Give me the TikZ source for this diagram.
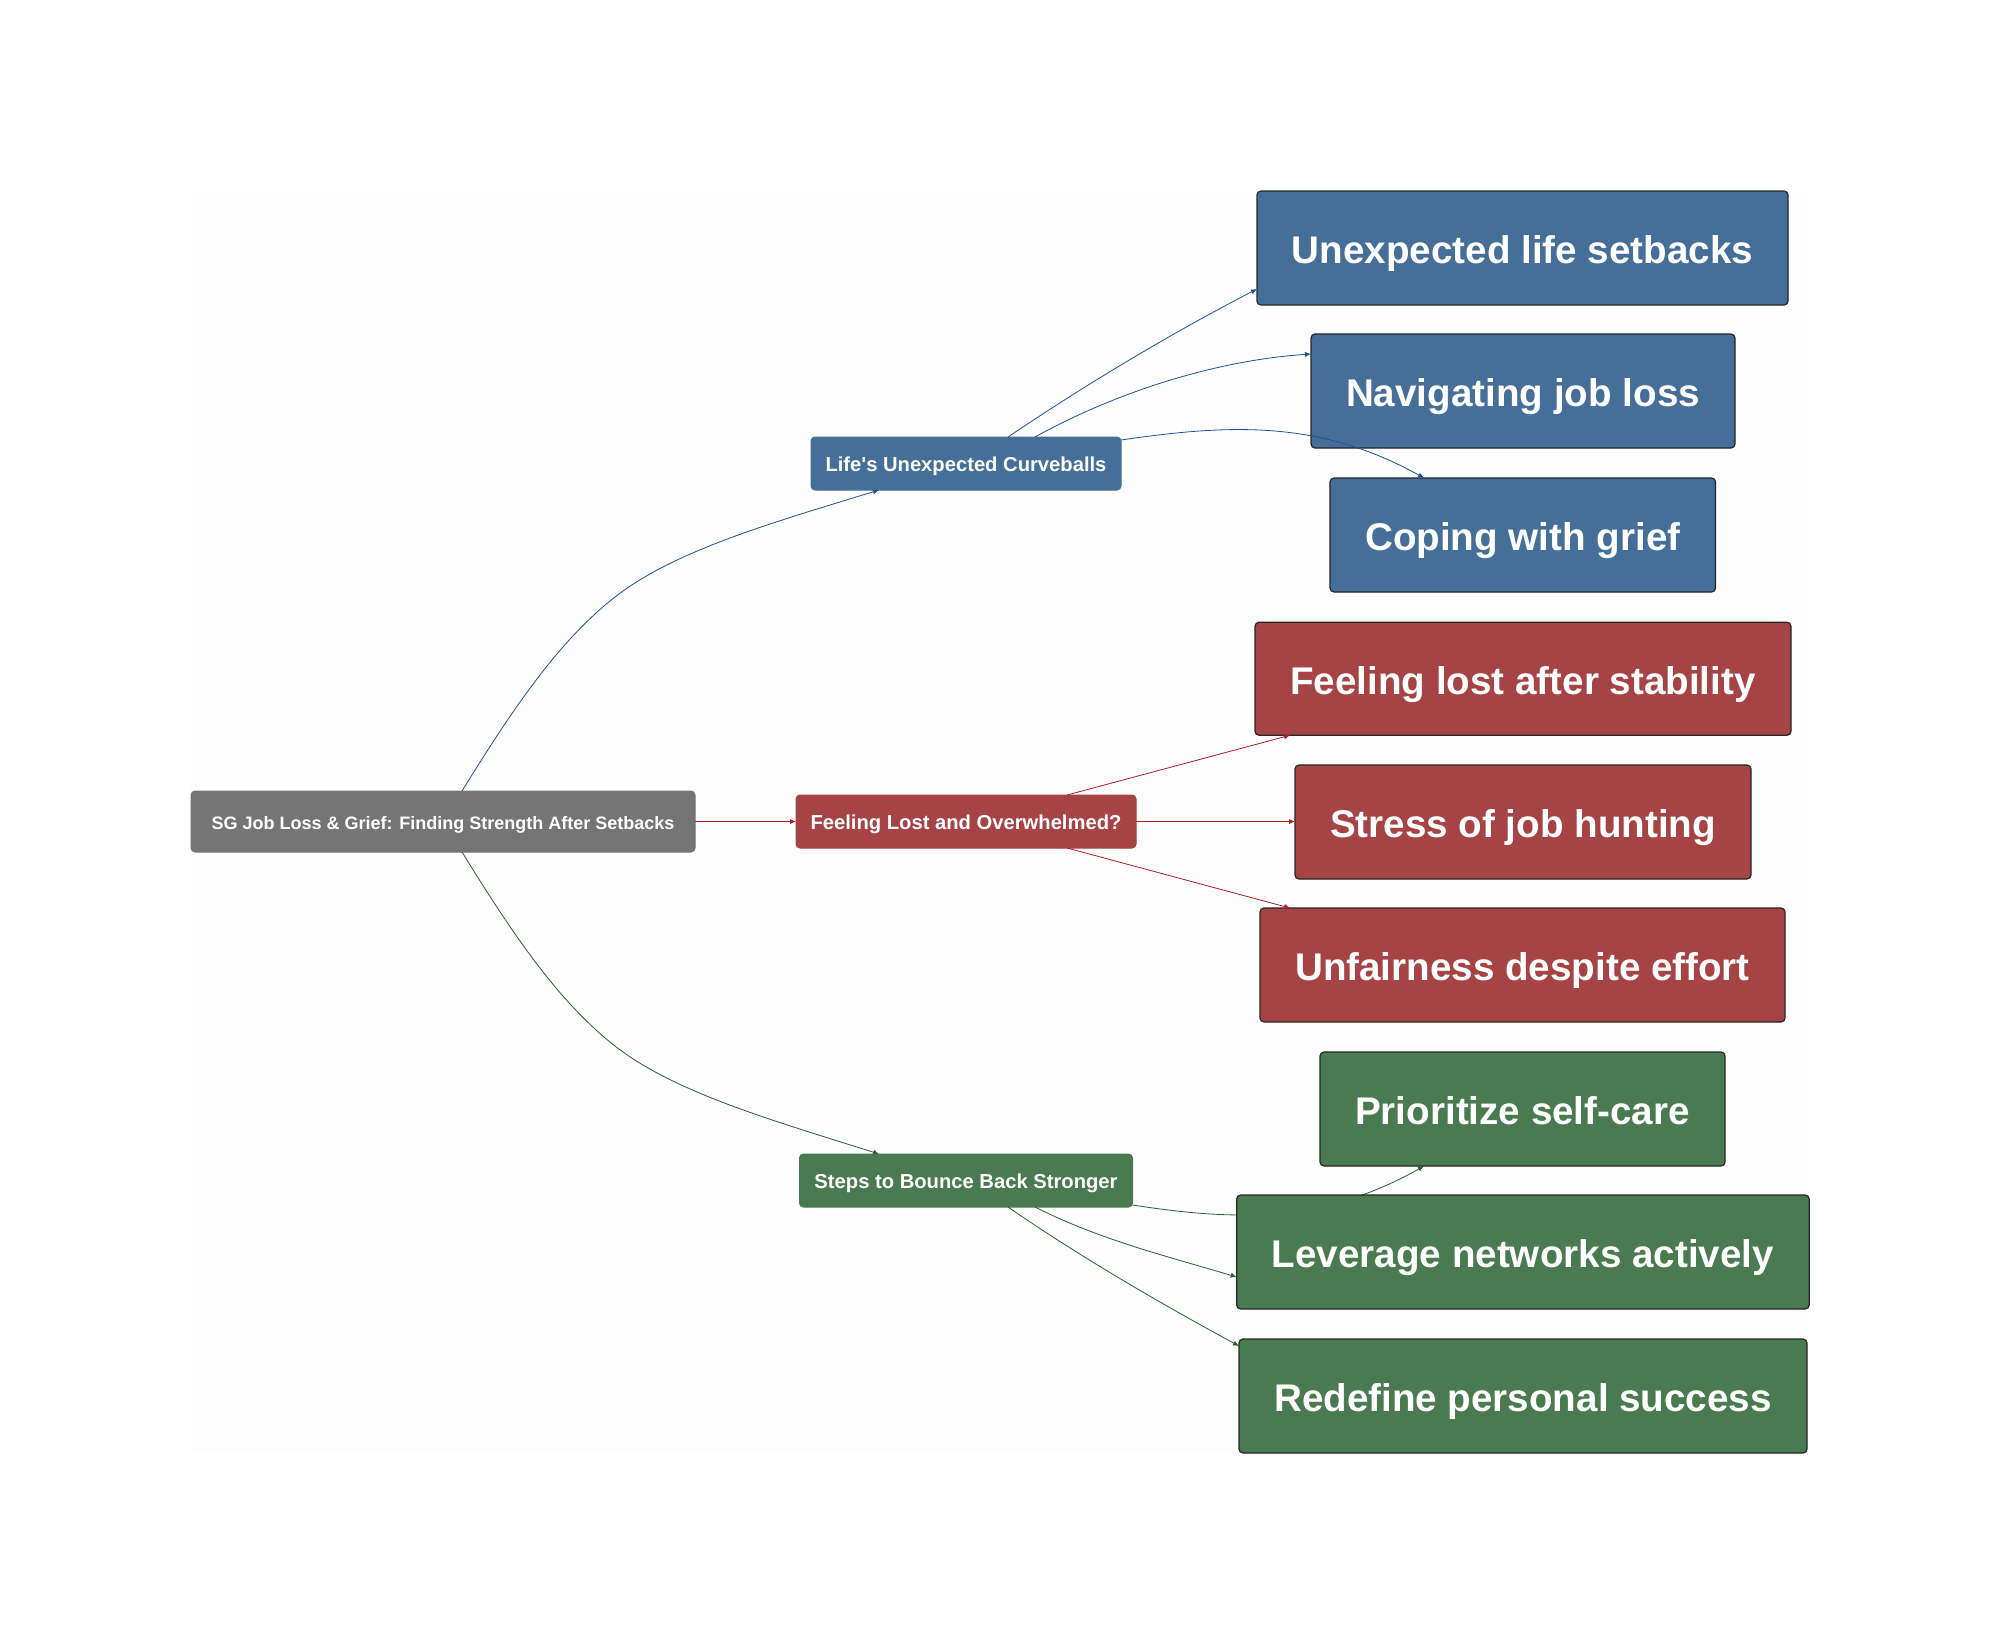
\documentclass[tikz,border=0pt]{standalone}
\usepackage{fontspec}
\setmainfont{Liberation Sans}
\usetikzlibrary{arrows.meta}
\definecolor{bluefill}{HTML}{456E98}
\definecolor{redfill}{HTML}{A54345}
\definecolor{greenfill}{HTML}{4A7A4F}
\definecolor{greyfill}{HTML}{757575}
\definecolor{blueedge}{HTML}{1F4F96}
\definecolor{rededge}{HTML}{B01E24}
\definecolor{greenedge}{HTML}{2A5E30}
\definecolor{panel}{HTML}{FDFDFD}
\pgfdeclarelayer{back}
\pgfsetlayers{back,main}
\tikzset{
  box/.style={rectangle,rounded corners=2pt,inner sep=0pt,outer sep=0pt,align=center,text=white,font=\bfseries},
  smallbox/.style={box,font=\fontsize{10.1pt}{12pt}\bfseries,text height=9.4pt,text depth=1.8pt,line width=0.5pt},
  rootbox/.style={smallbox,font=\fontsize{9pt}{12pt}\bfseries},
  bigbox/.style={box,font=\fontsize{19.3pt}{24pt}\bfseries,text height=19.4pt,text depth=3.6pt,draw=black!85,line width=0.6pt},
  bluebox/.style={fill=bluefill},
  redbox/.style={fill=redfill},
  greenbox/.style={fill=greenfill},
  edgeline/.style={line width=0.4pt},
  blueline/.style={edgeline,draw=blueedge,-{Latex[length=3pt,width=2.6pt]}},
  redline/.style={edgeline,draw=rededge,-{Latex[length=3pt,width=2.6pt]}},
  greenline/.style={edgeline,draw=greenedge,-{Latex[length=3pt,width=2.6pt]}}
}
\begin{document}
\begin{tikzpicture}[x=0.5pt,y=-0.5pt]
\useasboundingbox (0,0) rectangle (2000,1644);
\begin{pgfonlayer}{back}
\fill[white] (0,0) rectangle (2000,1644);
\fill[panel] (191,191) rectangle (1809,1453);
\end{pgfonlayer}
% root and branches
\node[rootbox,fill=greyfill,draw=greyfill,minimum width=252pt,minimum height=30.5pt] (root) at (443,821.5) {SG Job Loss \& Grief: Finding Strength After Setbacks};
\node[smallbox,bluebox,draw=bluefill,minimum width=155pt,minimum height=26.5pt] (life) at (966,463.5) {Life\textquotesingle s Unexpected Curveballs};
\node[smallbox,redbox,draw=redfill,minimum width=170pt,minimum height=26.5pt] (lost) at (966,821.5) {Feeling Lost and Overwhelmed?};
\node[smallbox,greenbox,draw=greenfill,minimum width=166.5pt,minimum height=26.5pt] (steps) at (966,1180.5) {Steps to Bounce Back Stronger};
% leaves
\node[bigbox,bluebox,minimum width=265.5pt,minimum height=57pt] (setbacks) at (1522.5,248) {Unexpected life setbacks};
\node[bigbox,bluebox,minimum width=212pt,minimum height=57pt] (joblost) at (1523,391) {Navigating job loss};
\node[bigbox,bluebox,minimum width=192.75pt,minimum height=57pt] (grief) at (1522.75,535) {Coping with grief};
\node[bigbox,redbox,minimum width=268pt,minimum height=56.5pt] (stability) at (1523,678.75) {Feeling lost after stability};
\node[bigbox,redbox,minimum width=228pt,minimum height=57pt] (hunting) at (1523,822) {Stress of job hunting};
\node[bigbox,redbox,minimum width=262.5pt,minimum height=57pt] (unfair) at (1522.5,965) {Unfairness despite effort};
\node[bigbox,greenbox,minimum width=202.5pt,minimum height=57pt] (selfcare) at (1522.5,1109) {Prioritize self-care};
\node[bigbox,greenbox,minimum width=286.25pt,minimum height=57pt] (networks) at (1522.9,1252) {Leverage networks actively};
\node[bigbox,greenbox,minimum width=284pt,minimum height=57pt] (success) at (1523,1396) {Redefine personal success};
% connectors
\draw[blueline] (root.north -| 462,0) .. controls (515,705) and (560,640) .. (615,597) .. controls (675,550) and (775,522) .. (life.south -| 879,0);
\draw[redline] (root.east |- 0,821.5) -- (lost.west |- 0,821.5);
\draw[greenline] (root.south -| 462,0) .. controls (515,938) and (560,1003) .. (615,1046) .. controls (675,1093) and (775,1121) .. (steps.north -| 879,0);
\draw[blueline] (life.north -| 1008,0) .. controls (1088,383) and (1172,333) .. (setbacks.west |- 0,289);
\draw[blueline] (life.north -| 1035,0) .. controls (1120,390) and (1220,360) .. (joblost.west |- 0,354);
\draw[blueline] (life.east |- 0,440) .. controls (1230,424) and (1320,420) .. (grief.north -| 1424,0);
\draw[redline] (lost.north -| 1067,0) -- (stability.south -| 1290,0);
\draw[redline] (lost.east |- 0,821.5) -- (hunting.west |- 0,821.5);
\draw[redline] (lost.south -| 1067,0) -- (unfair.north -| 1290,0);
\begin{pgfonlayer}{back}
\draw[greenline] (steps.east |- 0,1205) .. controls (1230,1220) and (1320,1225) .. (selfcare.south -| 1424,0);
\end{pgfonlayer}
\draw[greenline] (steps.south -| 1035,0) .. controls (1100,1240) and (1170,1257) .. (networks.west |- 0,1277);
\draw[greenline] (steps.south -| 1008,0) .. controls (1082,1258) and (1160,1303) .. (success.west |- 0,1346);
\end{tikzpicture}
\end{document}
